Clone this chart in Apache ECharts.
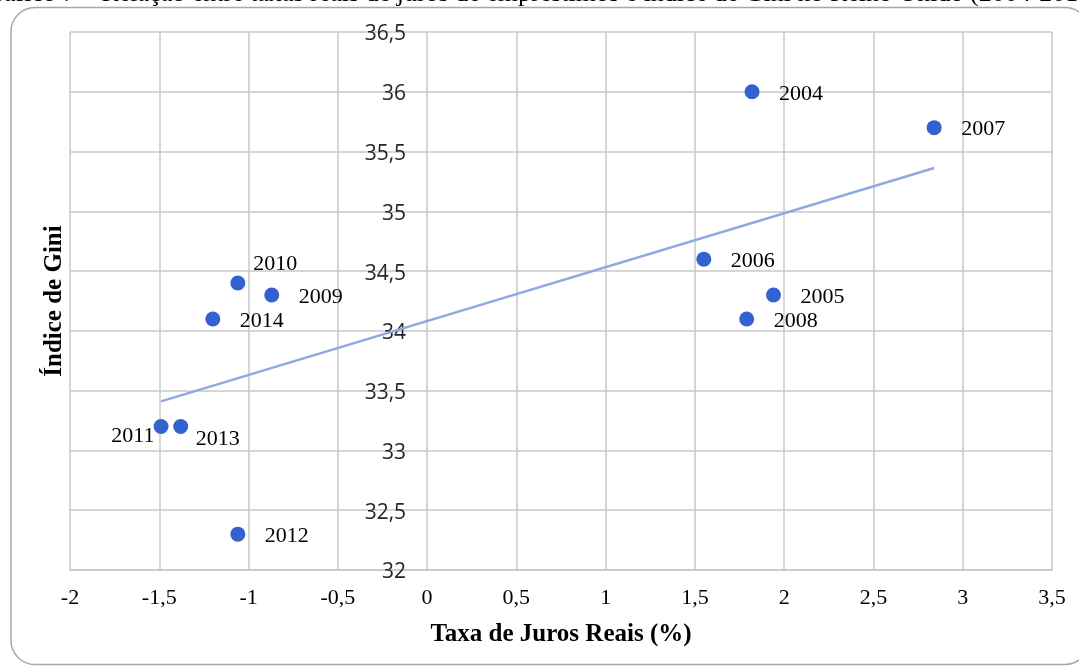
<!DOCTYPE html>
<html>
<head>
<meta charset="utf-8">
<script src="https://cdn.jsdelivr.net/npm/echarts@6/dist/echarts.min.js"></script>
<style>
  html, body { margin: 0; padding: 0; background: #ffffff; }
  #chart { width: 1079px; height: 667px; }
</style>
</head>
<body>
<div id="chart"></div>
<script>
// Real lending interest rate vs. Gini index, United Kingdom 2004-2014
const years     = ['2004', '2005', '2006', '2007', '2008', '2009', '2010', '2011', '2012', '2013', '2014'];
const realRate  = [1.82, 1.94, 1.55, 2.84, 1.79, -0.87, -1.06, -1.49, -1.06, -1.38, -1.20];
const giniIndex = [36.0, 34.3, 34.6, 35.7, 34.1, 34.3, 34.4, 33.2, 32.3, 33.2, 34.1];

const chartTitle = 'Gráfico 7 – Relação entre taxas reais de juros de empréstimos e índice de Gini no Reino Unido (2004-2014)';
const xAxisTitle = 'Taxa de Juros Reais (%)';
const yAxisTitle = 'Índice de Gini';

// Label placement for points whose labels sit off the default right-hand side
const labelPlacement = {
  '2010': { distance: 8, offset: [0, -19] },
  '2011': { position: 'left', distance: 0, offset: [1, 10] },
  '2013': { distance: 7.5, offset: [0, 13] }
};

// Ordinary least-squares linear trend over the plotted points
function linearTrend(xs, ys) {
  const n = xs.length;
  const mx = xs.reduce((a, b) => a + b, 0) / n;
  const my = ys.reduce((a, b) => a + b, 0) / n;
  let sxy = 0, sxx = 0;
  for (let i = 0; i < n; i++) {
    sxy += (xs[i] - mx) * (ys[i] - my);
    sxx += (xs[i] - mx) * (xs[i] - mx);
  }
  const slope = sxy / sxx;
  const intercept = my - slope * mx;
  const x0 = Math.min(...xs), x1 = Math.max(...xs);
  return [[x0, intercept + slope * x0], [x1, intercept + slope * x1]];
}

const comma = v => String(v).replace('.', ',');
const gridColor = '#c8c8c8';
const serif = '"Liberation Serif", "Times New Roman", serif';
const gridLeft = 70;

const points = years.map((y, i) => {
  const item = { name: y, value: [realRate[i], giniIndex[i]] };
  if (labelPlacement[y]) item.label = labelPlacement[y];
  return item;
});

const chart = echarts.init(document.getElementById('chart'), null, { renderer: 'canvas' });

chart.setOption({
  backgroundColor: '#ffffff',
  animation: false,
  grid: { left: gridLeft, right: 27, top: 32, bottom: 97, containLabel: false },
  graphic: [
    {
      type: 'rect',
      shape: { x: 11, y: 7.5, width: 1078, height: 657, r: 24 },
      style: { fill: 'none', stroke: '#a8a8a8', lineWidth: 1.5 },
      silent: true
    },
    {
      type: 'text',
      x: 1100,
      y: 7,
      style: {
        text: chartTitle,
        font: '26px ' + serif,
        fill: '#000000',
        align: 'right',
        verticalAlign: 'bottom'
      },
      silent: true
    }
  ],
  xAxis: {
    type: 'value',
    min: -2,
    max: 3.5,
    interval: 0.5,
    name: xAxisTitle,
    nameLocation: 'middle',
    nameGap: 52,
    nameTextStyle: { fontFamily: serif, fontWeight: 'bold', fontSize: 25, color: '#000000' },
    axisLine: { onZero: false, lineStyle: { color: gridColor, width: 1.5 } },
    axisTick: { show: false },
    axisLabel: { margin: 17, formatter: comma, fontFamily: serif, fontSize: 22, color: '#000000' },
    splitLine: { show: true, lineStyle: { color: gridColor, width: 1.5 } }
  },
  yAxis: [
    {
      // Value axis whose labels run along the x = 0 gridline
      type: 'value',
      min: 32,
      max: 36.5,
      interval: 0.5,
      axisLine: { show: false, onZero: false },
      axisTick: { show: false },
      axisLabel: {
        margin: 21,
        formatter: comma,
        fontFamily: '"Open Sans", "Liberation Sans", sans-serif',
        fontSize: 21,
        color: '#262626',
        verticalAlign: 'top',
        lineHeight: 5
      },
      splitLine: { show: true, lineStyle: { color: gridColor, width: 1.5 } }
    },
    {
      // Left-hand axis carrying only the vertical axis title
      type: 'value',
      position: 'left',
      min: 32,
      max: 36.5,
      name: yAxisTitle,
      nameLocation: 'middle',
      nameGap: 3,
      nameTextStyle: { fontFamily: serif, fontWeight: 'bold', fontSize: 25, color: '#000000' },
      axisLine: { show: false, onZero: false },
      axisTick: { show: false },
      axisLabel: { show: false },
      splitLine: { show: false }
    }
  ],
  series: [
    {
      type: 'scatter',
      yAxisIndex: 0,
      symbol: 'circle',
      symbolSize: 15,
      itemStyle: { color: '#3362d0', opacity: 1 },
      label: {
        show: true,
        position: 'right',
        distance: 19.5,
        offset: [0, 2],
        formatter: '{b}',
        fontFamily: serif,
        fontSize: 22,
        color: '#000000'
      },
      data: points,
      z: 3
    },
    {
      type: 'line',
      yAxisIndex: 0,
      data: linearTrend(realRate, giniIndex),
      symbol: 'none',
      lineStyle: { color: '#8eaadf', width: 2.5 },
      silent: true,
      z: 4
    }
  ]
});

// Shift the value-axis labels so they sit against the x = 0 gridline
const zeroX = chart.convertToPixel({ xAxisIndex: 0 }, 0);
chart.setOption({ yAxis: [{ offset: gridLeft - zeroX }] });
</script>
</body>
</html>
